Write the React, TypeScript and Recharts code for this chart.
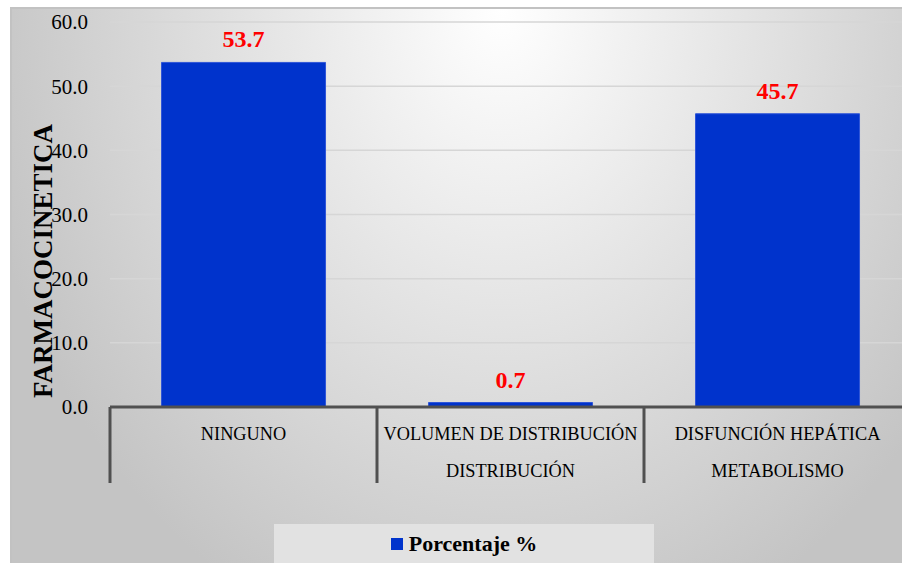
import React from 'react';
import { Bar, BarChart, CartesianGrid, LabelList, Legend, XAxis, YAxis } from 'recharts';

const categories = ['NINGUNO', 'VOLUMEN DE DISTRIBUCIÓN|DISTRIBUCIÓN', 'DISFUNCIÓN HEPÁTICA|METABOLISMO'];
const porcentaje = [53.7, 0.7, 45.7];
const yTicks = [0, 10, 20, 30, 40, 50, 60];

const data = categories.map((name, i) => ({ name, value: porcentaje[i] }));

const BLUE = '#0033cc';
const SERIF = '"Liberation Serif", "Times New Roman", serif';
const PLOT_LEFT = 110;
const PLOT_RIGHT = 911;
const HALF_BAND = (PLOT_RIGHT - PLOT_LEFT) / categories.length / 2;

const CategoryTick = (props: any) => {
  const { x, y, payload } = props;
  const lines = String(payload.value).split('|');
  const axisY = y - 8;
  return (
    <g>
      <line x1={x - HALF_BAND} y1={axisY} x2={x - HALF_BAND} y2={axisY + 76} stroke="#505050" strokeWidth={3} />
      {lines.map((t, i) => (
        <text key={i} x={x} y={axisY + 33 + i * 37} textAnchor="middle" fontFamily={SERIF} fontSize={18.3} fill="#000">
          {t}
        </text>
      ))}
    </g>
  );
};

const renderLegend = () => (
  <div
    style={{
      width: 380,
      height: 39,
      background: '#e2e2e2',
      display: 'flex',
      alignItems: 'center',
      justifyContent: 'center',
      fontFamily: SERIF,
      fontWeight: 'bold',
      fontSize: 22,
      color: '#000',
    }}
  >
    <span style={{ display: 'inline-block', width: 12, height: 12, background: BLUE, marginRight: 6 }} />
    Porcentaje %
  </div>
);

export default function App() {
  return (
    <div style={{ position: 'fixed', left: 0, top: 0, width: 902, height: 563, overflow: 'hidden', background: '#fff' }}>
      <div
        style={{
          position: 'absolute',
          left: 10,
          top: 7,
          width: 892,
          height: 556,
          boxSizing: 'border-box',
          borderTop: '2px solid #c2c2c2',
          borderLeft: '2px solid #c2c2c2',
          background: 'radial-gradient(ellipse 60% 120% at 55% 0%, #ffffff 0%, #c4c4c4 100%)',
        }}
      />
      <div style={{ position: 'absolute', left: 0, top: 0 }}>
        <BarChart
          width={920}
          height={563}
          data={data}
          margin={{ top: 22, right: 920 - PLOT_RIGHT, left: 0, bottom: 37 }}
          barCategoryGap="19.3%"
        >
          <CartesianGrid vertical={false} stroke="#d6d6d6" strokeWidth={1.5} />
          <XAxis
            dataKey="name"
            height={80}
            interval={0}
            tick={<CategoryTick />}
            tickLine={false}
            axisLine={{ stroke: '#505050', strokeWidth: 3 }}
          />
          <YAxis
            width={PLOT_LEFT}
            domain={[0, 60]}
            ticks={yTicks}
            tickFormatter={(v: number) => v.toFixed(1)}
            tickLine={false}
            axisLine={false}
            tickMargin={16}
            tick={{ fontFamily: SERIF, fontSize: 21, fill: '#000' }}
            label={() => (
              <text
                x={52}
                y={261}
                transform="rotate(-90 52 261)"
                textAnchor="middle"
                fontFamily={SERIF}
                fontWeight="bold"
                fontSize={27}
                fill="#000"
              >
                FARMACOCINETICA
              </text>
            )}
          />
          <Legend
            verticalAlign="bottom"
            content={renderLegend}
            wrapperStyle={{ left: 274, top: 524, width: 380, height: 39 }}
          />
          <Bar dataKey="value" name="Porcentaje %" fill={BLUE} stroke="#2f56d8" strokeWidth={1} isAnimationActive={false}>
            <LabelList
              dataKey="value"
              position="top"
              offset={15}
              formatter={(v: any) => Number(v).toFixed(1)}
              fill="#ff0000"
              fontFamily={SERIF}
              fontWeight="bold"
              fontSize={24}
            />
          </Bar>
        </BarChart>
      </div>
    </div>
  );
}
